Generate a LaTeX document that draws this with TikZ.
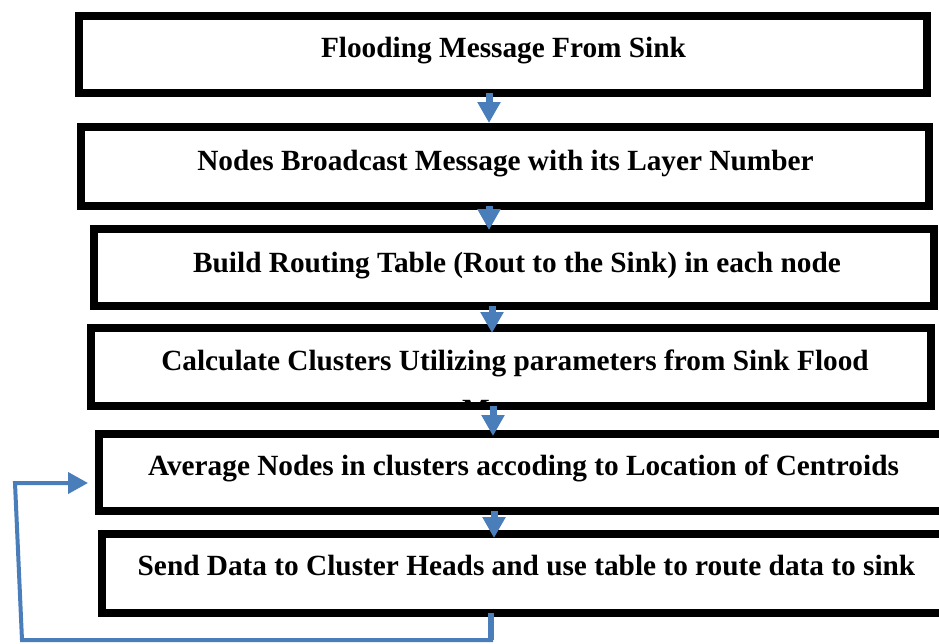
\documentclass[tikz,border=0pt]{standalone}
\usepackage{fontspec}
\setmainfont{Liberation Serif}
\usetikzlibrary{arrows.meta,calc}
\definecolor{arrblue}{RGB}{74,126,187}
\begin{document}
\begin{tikzpicture}[x=1pt,y=-1pt,
  box/.style={draw=black,line width=8pt,rectangle,inner sep=0pt,outer sep=0pt},
  lbl/.style={anchor=base,inner sep=0pt,font=\fontsize{29.3}{40}\selectfont\bfseries},
  flow/.style={draw=arrblue,line width=7pt,-{Triangle[length=21pt,width=22pt]}},
  back/.style={draw=arrblue,line width=4pt,line join=miter,-{Triangle[length=20pt,width=21pt]}}]
\clip (0,0) rectangle (939,643);
\fill[white] (0,0) rectangle (939,643);

% boxes
\node[box,minimum width=848pt,minimum height=77pt] (b1) at (503,54.5) {};
\node[box,minimum width=848pt,minimum height=79pt] (b2) at (505,166.5) {};
\node[box,minimum width=840pt,minimum height=77pt] (b3) at (514,267.5) {};
\node[box,minimum width=840pt,minimum height=78pt] (b4) at (511,367) {};
\node[box,minimum width=849pt,minimum height=77pt] (b5) at (523.5,472.5) {};
\node[box,minimum width=849pt,minimum height=79pt] (b6) at (526.5,573.5) {};

% texts
\node[lbl] (t1) at (503.5,57) {Flooding Message From Sink};
\node[lbl] (t2) at (505.5,170.5) {Nodes Broadcast Message with its Layer Number};
\node[lbl] (t3) at (517,272.5) {Build Routing Table (Rout to the Sink) in each node};
\node[lbl] (t4) at (515,370.5) {Calculate Clusters Utilizing parameters from Sink Flood};
\begin{scope}
  \clip ([shift={(4pt,4pt)}]b4.south west) rectangle ([shift={(-4pt,-4pt)}]b4.north east);
  \node[lbl] (t4b) at (515,419) {Message};
\end{scope}
\node[lbl] (t5) at (523.5,475.5) {Average Nodes in clusters accoding to Location of Centroids};
\node[lbl] (t6) at (526.5,575.5) {Send Data to Cluster Heads and use table to route data to sink};

% flow arrows
\draw[flow] ([xshift=-14pt]b1.south) -- ([xshift=-16pt,yshift=4pt]b2.north);
\draw[flow] ([xshift=-16pt]b2.south) -- ([xshift=-25pt,yshift=-1pt]b3.north);
\draw[flow] ([xshift=-22pt]b3.south) -- ([xshift=-19pt,yshift=-5pt]b4.north);
\draw[flow] ([xshift=-18pt]b4.south) -- ([xshift=-30.5pt,yshift=-2pt]b5.north);
\draw[flow] ([xshift=-29.5pt]b5.south) -- ([xshift=-32.5pt,yshift=-4pt]b6.north);

% feedback loop
\coordinate (drop) at ([xshift=-35.5pt]b6.south);
\coordinate (lc1) at (22,640);
\coordinate (lc2) at (15,483);
\draw[back] (drop) |- (lc1) -- (lc2) -- ([xshift=-11pt,yshift=-10.5pt]b5.west);
\draw[draw=arrblue,line width=6pt] (drop) -- (drop |- lc1);
\end{tikzpicture}
\end{document}
